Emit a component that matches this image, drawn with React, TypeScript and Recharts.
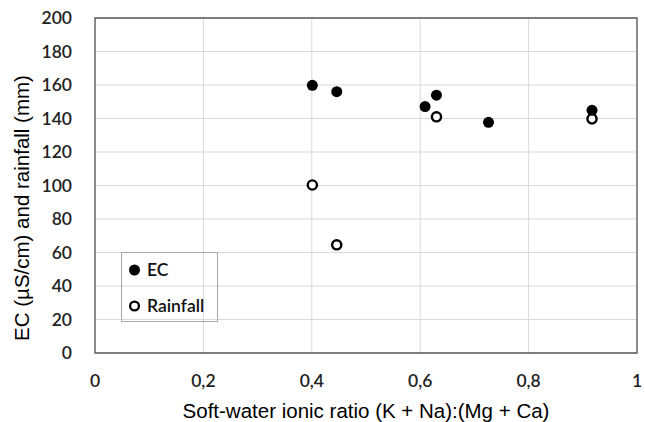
import React from "react";
import {
  ScatterChart,
  Scatter,
  XAxis,
  YAxis,
  CartesianGrid,
  ReferenceArea,
} from "recharts";

const ecRatio = [0.401, 0.446, 0.609, 0.63, 0.726, 0.917];
const ecValues = [159.8, 156, 147.1, 153.9, 137.7, 144.9];
const rainRatio = [0.401, 0.446, 0.63, 0.917];
const rainValues = [100.3, 64.6, 141, 139.8];
const xTicks = [0, 0.2, 0.4, 0.6, 0.8, 1];
const yTicks = [0, 20, 40, 60, 80, 100, 120, 140, 160, 180, 200];
const legendLabels = ["EC", "Rainfall"];
const xTitle = "Soft-water ionic ratio (K + Na):(Mg + Ca)";
const yTitle = "EC (µS/cm) and rainfall (mm)";

const ecData = ecRatio.map((x, i) => ({ x, y: ecValues[i] }));
const rainData = rainRatio.map((x, i) => ({ x, y: rainValues[i] }));

const tickFont = "Lato, 'Open Sans', sans-serif";
const labelFont = "'Liberation Sans', Arial, sans-serif";

const FilledDot = (props: any) => (
  <circle cx={props.cx} cy={props.cy} r={5.5} fill="#000" />
);
const OpenDot = (props: any) => (
  <circle cx={props.cx} cy={props.cy} r={4.6} fill="#fff" stroke="#000" strokeWidth={2.4} />
);

const LegendBox = () => (
  <div
    style={{
      position: "absolute",
      left: 121,
      top: 252,
      width: 97,
      height: 70,
      border: "1px solid #a6a6a6",
      boxSizing: "border-box",
    }}
  >
    <svg width={97} height={70} style={{ position: "absolute", left: -1, top: -1 }}>
      <circle cx={13.5} cy={18} r={5.5} fill="#000" />
      <text x={26} y={24} fontFamily={tickFont} fontSize={17.5} fontWeight={600} fill="#111">{legendLabels[0]}</text>
      <circle cx={13.5} cy={54} r={4.4} fill="#fff" stroke="#000" strokeWidth={2.3} />
      <text x={26} y={60} fontFamily={tickFont} fontSize={17.5} fontWeight={600} fill="#111">{legendLabels[1]}</text>
    </svg>
  </div>
);

export default function App() {
  return (
    <div style={{ position: "absolute", left: 0, top: 0, width: 645, height: 422, background: "#fff" }}>
      <ScatterChart
        width={645}
        height={422}
        margin={{ top: 18, right: 8, bottom: 0, left: 0 }}
      >
        <CartesianGrid stroke="#d9d9d9" strokeWidth={1} />
        <XAxis
          type="number"
          dataKey="x"
          domain={[0, 1]}
          ticks={xTicks}
          height={69}
          axisLine={false}
          tickLine={false}
          tick={{ fontFamily: tickFont, fontSize: 17.5, fill: "#222", fontWeight: 600 }}
          tickFormatter={(v: number) => String(v).replace(".", ",")}
          tickMargin={16}
          label={{
            value: xTitle,
            position: "insideBottom",
            offset: 4,
            style: { fontFamily: labelFont, fontSize: 20.5, fill: "#000" },
          }}
        />
        <YAxis
          type="number"
          dataKey="y"
          domain={[0, 200]}
          ticks={yTicks}
          width={95}
          axisLine={false}
          tickLine={false}
          tick={{ fontFamily: tickFont, fontSize: 17.5, fill: "#222", fontWeight: 600 }}
          tickMargin={17}
          label={{
            content: () => (
              <text
                transform="translate(29,208) rotate(-90)"
                textAnchor="middle"
                fontFamily={labelFont}
                fontSize={20.5}
                fill="#000"
              >
                {yTitle}
              </text>
            ),
          }}
        />
        <ReferenceArea x1={0} x2={1} y1={0} y2={200} fill="none" stroke="#595959" strokeWidth={1.3} ifOverflow="visible" />
        <Scatter name="EC" data={ecData} shape={FilledDot} isAnimationActive={false} />
        <Scatter name="Rainfall" data={rainData} shape={OpenDot} isAnimationActive={false} />
      </ScatterChart>
      <LegendBox />
    </div>
  );
}
